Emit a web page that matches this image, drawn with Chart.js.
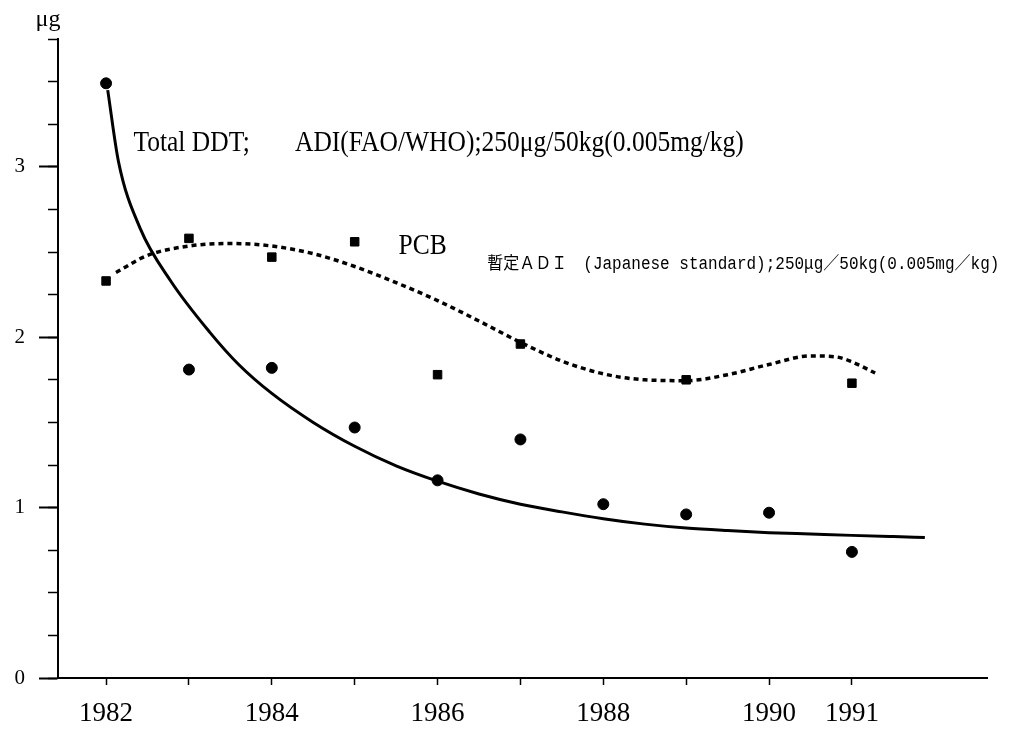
<!DOCTYPE html>
<html>
<head>
<meta charset="utf-8">
<script src="https://cdn.jsdelivr.net/npm/chart.js@4"></script>
<style>
  html, body { margin: 0; padding: 0; background: #fff; }
  #wrap { width: 1034px; height: 731px; }
</style>
</head>
<body>
<div id="wrap"><canvas id="chart" width="1034" height="731"></canvas></div>
<script>
// measured values (µg)
const years = [1982, 1983, 1984, 1985, 1986, 1987, 1988, 1989, 1990, 1991];
const ddt = [3.49, 1.81, 1.82, 1.47, 1.16, 1.40, 1.02, 0.96, 0.97, 0.74];
const pcbYears = [1982, 1983, 1984, 1985, 1986, 1987, 1989, 1991];
const pcb = [2.33, 2.58, 2.47, 2.56, 1.78, 1.96, 1.75, 1.73];

// fitted curves
const ddtFitX = [1982.02, 1982.15, 1982.41, 1982.78, 1983.25, 1983.6,
  1984.0, 1984.5, 1985.0, 1985.5, 1986.0, 1986.5, 1987.0, 1987.5, 1988.0, 1988.5, 1989.0, 1989.5,
  1990.0, 1990.5, 1991.0, 1991.5, 1991.88];
const ddtFitY = [3.45, 3.03, 2.64, 2.33, 2.03, 1.84,
  1.67, 1.50, 1.36, 1.245, 1.155, 1.08, 1.02, 0.975, 0.935, 0.903, 0.88, 0.865,
  0.853, 0.845, 0.837, 0.83, 0.825];
const pcbFitX = [1982.12, 1982.5, 1983.0, 1983.5, 1984.0, 1984.5, 1985.0, 1985.5, 1986.0, 1986.5, 1987.0,
  1987.5, 1988.0, 1988.5, 1989.0, 1989.5, 1990.0, 1990.5, 1990.8, 1991.0, 1991.28];
const pcbFitY = [2.38, 2.48, 2.535, 2.55, 2.535, 2.49, 2.415, 2.32, 2.215, 2.095, 1.97,
  1.86, 1.785, 1.75, 1.745, 1.78, 1.84, 1.89, 1.885, 1.855, 1.79];

// axis ticks
const xTicks = [1982, 1983, 1984, 1985, 1986, 1987, 1988, 1989, 1990, 1991];
const xLabels = [1982, 1984, 1986, 1988, 1990, 1991];
const yTicks = [0, 1, 2, 3];

function pts(xs, ys) {
  return xs.map(function (x, i) { return { x: x, y: ys[i] }; });
}

// texts written inside the plot
const notes = {
  id: 'notes',
  afterDraw: function (chart) {
    const ctx = chart.ctx;
    const x = chart.scales.x;
    const y = chart.scales.y;
    ctx.save();
    ctx.fillStyle = '#000';
    ctx.textAlign = 'left';
    ctx.textBaseline = 'alphabetic';

    // scanned text is a little taller than wide
    function put(text, xv, yv, font, stretch) {
      ctx.save();
      ctx.font = font;
      ctx.translate(x.getPixelForValue(xv), y.getPixelForValue(yv));
      ctx.scale(1, stretch);
      ctx.fillText(text, 0, 0);
      ctx.restore();
    }

    put('Total DDT;', 1982.33, 3.09, '25.5px "Liberation Serif"', 1.12);
    put('ADI(FAO/WHO);250\u03bcg/50kg(0.005mg/kg)', 1984.28, 3.09, '25.5px "Liberation Serif"', 1.12);
    put('PCB', 1985.53, 2.49, '25.5px "Liberation Serif"', 1.12);
    put('暫定ＡＤＩ　(Japanese standard);250\u03bcg／50kg(0.005mg／kg)', 1986.6, 2.40,
      '16px "Liberation Mono", "Noto Sans CJK JP"', 1.1);

    // unit above the y axis
    ctx.textAlign = 'center';
    ctx.font = '24px "Liberation Serif"';
    ctx.fillText('\u03bcg', y.right - 10, y.top - 13);
    ctx.restore();
  }
};

new Chart(document.getElementById('chart'), {
  type: 'scatter',
  data: {
    datasets: [
      {
        label: 'Total DDT fit',
        type: 'line',
        data: pts(ddtFitX, ddtFitY),
        borderColor: '#000',
        borderWidth: 3,
        pointRadius: 0,
        cubicInterpolationMode: 'monotone',
        fill: false
      },
      {
        label: 'PCB fit',
        type: 'line',
        data: pts(pcbFitX, pcbFitY),
        borderColor: '#000',
        borderWidth: 3.5,
        borderDash: [5, 4],
        pointRadius: 0,
        cubicInterpolationMode: 'monotone',
        fill: false
      },
      {
        label: 'Total DDT',
        data: pts(years, ddt),
        pointStyle: 'circle',
        pointRadius: 5.5,
        backgroundColor: '#000',
        borderColor: '#000'
      },
      {
        label: 'PCB',
        data: pts(pcbYears, pcb),
        pointStyle: 'rect',
        pointRadius: 6,
        backgroundColor: '#000',
        borderColor: '#000'
      }
    ]
  },
  options: {
    responsive: false,
    animation: false,
    layout: { padding: { top: 39, right: 47, left: 0, bottom: 0 } },
    plugins: {
      legend: { display: false },
      tooltip: { enabled: false }
    },
    scales: {
      x: {
        type: 'linear',
        min: 1981.42,
        max: 1992.63,
        afterBuildTicks: function (s) { s.ticks = xTicks.map(function (v) { return { value: v }; }); },
        afterFit: function (s) { s.height = 53; },
        grid: { drawOnChartArea: false, tickLength: 7, tickWidth: 1.5, tickColor: '#000' },
        border: { color: '#000', width: 2 },
        ticks: {
          color: '#000',
          font: { family: 'Liberation Serif', size: 27 },
          padding: 13,
          maxRotation: 0,
          autoSkip: false,
          callback: function (v) { return xLabels.indexOf(v) >= 0 ? String(v) : ''; }
        }
      },
      y: {
        position: 'left',
        weight: 1,
        min: 0,
        max: 3.75,
        afterBuildTicks: function (s) { s.ticks = yTicks.map(function (v) { return { value: v }; }); },
        afterFit: function (s) { s.width = 58; },
        grid: { drawOnChartArea: false, tickLength: 19, tickWidth: 2, tickColor: '#000' },
        border: { color: '#000', width: 2 },
        ticks: {
          color: '#000',
          font: { family: 'Liberation Serif', size: 21 },
          padding: 14,
          autoSkip: false,
          callback: function (v) { return String(v); }
        }
      },
      y2: {
        position: 'left',
        weight: 0,
        min: 0,
        max: 3.75,
        afterFit: function (s) { s.width = 0; },
        grid: { drawOnChartArea: false, tickLength: 10, tickWidth: 1.5, tickColor: '#000' },
        border: { display: false },
        ticks: { stepSize: 0.25, autoSkip: false, callback: function () { return ''; } }
      }
    }
  },
  plugins: [notes]
});
</script>
</body>
</html>
